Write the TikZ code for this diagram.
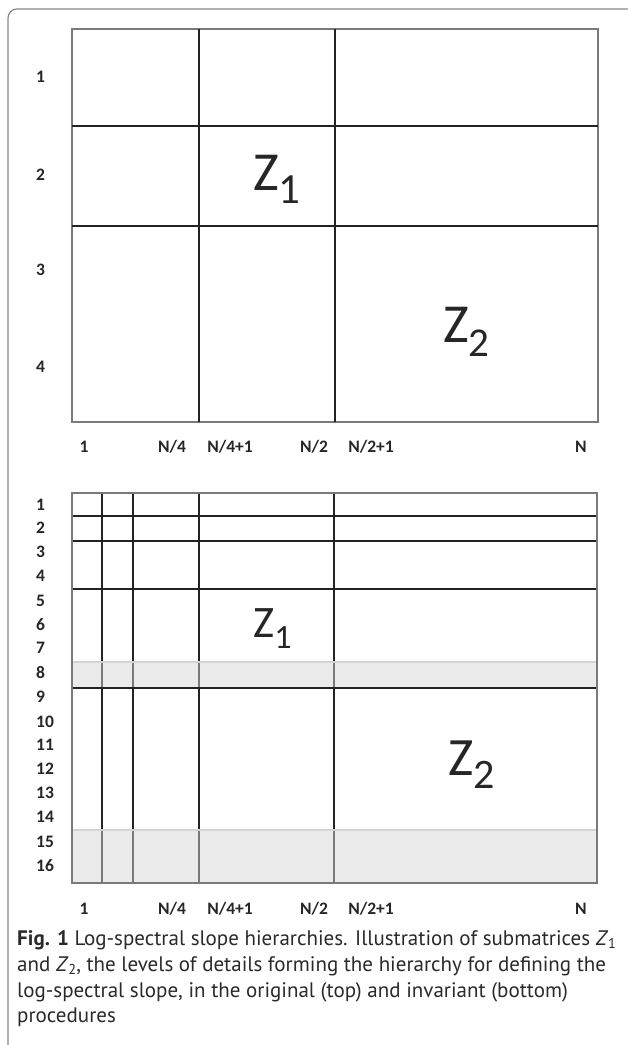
\documentclass[tikz,border=0pt]{standalone}
\usepackage{fontspec}
\setmainfont{Carlito}
\newfontfamily\capfont{PT Sans}
\definecolor{gridgray}{HTML}{7A7A7A}
\definecolor{griddark}{HTML}{232323}
\definecolor{shadefill}{HTML}{EBEBEB}
\definecolor{shadeline}{HTML}{D4D4D4}
\definecolor{framegray}{HTML}{888888}
\definecolor{labtext}{HTML}{262626}
\definecolor{captext}{HTML}{2A2A2A}
\begin{document}
\begin{tikzpicture}[x=1pt,y=-1pt,
  outerbox/.style={draw=gridgray,line width=1.4pt},
  innerline/.style={draw=griddark,line width=1.5pt},
  greyline/.style={draw=gridgray,line width=1.4pt},
  lightline/.style={draw=shadeline,line width=1.4pt},
  shaderow/.style={fill=shadefill},
  lab/.style={font=\bfseries\fontsize{17.5}{17.5}\selectfont,text=labtext,inner sep=0pt},
  rowlab/.style={lab,anchor=west},
  zbig/.style={inner sep=0pt,anchor=base west,text=labtext},
  capline/.style={inner sep=0pt,anchor=base west,text=captext,font=\capfont\fontsize{21}{21}\selectfont}]
\useasboundingbox (0,0) rectangle (628,1045);
\fill[white] (0,0) rectangle (628,1045);
% outer frame
\draw[framegray,line width=1.2pt,rounded corners=9pt] (8,1070) -- (8,9) -- (650,9);

% ---------- top grid ----------
\draw[outerbox] (72,29) rectangle (598,422);
\draw[innerline] (199,29) -- (199,422);
\draw[innerline] (335,29) -- (335,422);
\draw[innerline] (72,126) -- (598,126);
\draw[innerline] (72,226) -- (598,226);
\node[rowlab] (t1) at (36,77) {1};
\node[rowlab] (t2) at (36,175) {2};
\node[rowlab] (t3) at (36,270) {3};
\node[rowlab] (t4) at (36,367) {4};
\node[zbig] (tz1) at (253,190) {\fontsize{55}{55}\selectfont Z\raisebox{-13pt}{\fontsize{43}{43}\selectfont 1}};
\node[zbig] (tz2) at (443,342) {\fontsize{55}{55}\selectfont Z\raisebox{-14pt}{\fontsize{41}{41}\selectfont 2}};
\node[lab] (tc1) at (84,447) {1};
\node[lab] (tc2) at (172,447) {N/4};
\node[lab] (tc3) at (230,447) {N/4+1};
\node[lab] (tc4) at (314,447) {N/2};
\node[lab] (tc5) at (371,447) {N/2+1};
\node[lab] (tc6) at (581,447) {N};

% ---------- bottom grid ----------
\fill[shaderow] (72,662) rectangle (597,688);
\fill[shaderow] (72,830) rectangle (597,883);
% vertical inner lines
\foreach \x in {102,133,199,334}{
  \draw[innerline] (\x,493) -- (\x,662);
  \draw[greyline] (\x,662) -- (\x,688);
  \draw[innerline] (\x,688) -- (\x,830);
  \draw[greyline] (\x,830) -- (\x,883);
}
\draw[innerline] (72,516) -- (597,516);
\draw[innerline] (72,541) -- (597,541);
\draw[innerline] (72,589) -- (597,589);
\draw[lightline] (72,662) -- (597,662);
\draw[innerline] (72,688) -- (597,688);
\draw[lightline] (72,830) -- (597,830);
\draw[outerbox] (72,493) rectangle (597,883);
\foreach \n/\y in {1/505,2/528,3/552,4/576,5/601,6/625,7/648,8/673,9/697,10/722,11/745,12/769,13/793,14/817,15/842,16/866}{
  \node[rowlab] (b\n) at (36,\y) {\n};
}
\node[zbig] (bz1) at (253,637) {\fontsize{45}{45}\selectfont Z\raisebox{-11pt}{\fontsize{34}{34}\selectfont 1}};
\node[zbig] (bz2) at (448,775) {\fontsize{54}{54}\selectfont Z\raisebox{-13pt}{\fontsize{42}{42}\selectfont 2}};
\node[lab] (bc1) at (84,909) {1};
\node[lab] (bc2) at (172,909) {N/4};
\node[lab] (bc3) at (230,909) {N/4+1};
\node[lab] (bc4) at (314,909) {N/2};
\node[lab] (bc5) at (371,909) {N/2+1};
\node[lab] (bc6) at (581,909) {N};

% ---------- caption ----------
\node[capline] (cap1) at (17,945) {\textbf{Fig. 1} Log-spectral slope hierarchies. Illustration of submatrices \textit{Z}\raisebox{-3.5pt}{\fontsize{14.3}{14.3}\selectfont 1}};
\node[capline] (cap2) at (17,971) {and \textit{Z}\raisebox{-3.5pt}{\fontsize{14.3}{14.3}\selectfont 2}, the levels of details forming the hierarchy for defining the};
\node[capline] (cap3) at (17,997) {log-spectral slope, in the original (top) and invariant (bottom)};
\node[capline] (cap4) at (17,1022) {procedures};
\end{tikzpicture}
\end{document}
